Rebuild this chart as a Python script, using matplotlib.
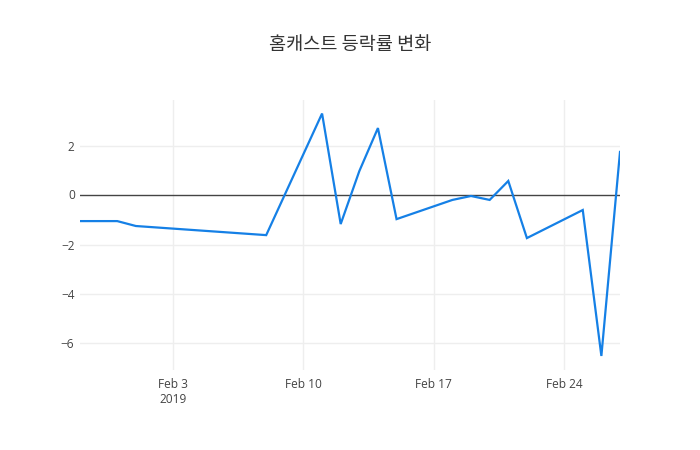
import matplotlib
matplotlib.use("Agg")
import matplotlib.pyplot as plt
import pandas as pd

plt.rcParams["font.family"] = ["Open Sans", "Noto Sans CJK KR", "DejaVu Sans"]

# ── Data ──────────────────────────────────────────────────────────────────────
dates = [
    "2019-01-29", "2019-01-30", "2019-01-31", "2019-02-01", "2019-02-08",
    "2019-02-11", "2019-02-12", "2019-02-13", "2019-02-14", "2019-02-15",
    "2019-02-18", "2019-02-19", "2019-02-20", "2019-02-21", "2019-02-22",
    "2019-02-25", "2019-02-26", "2019-02-27",
]
change_pct = [
    -1.04, -1.04, -1.04, -1.24, -1.61,
    3.33, -1.16, 0.99, 2.74, -0.96,
    -0.18, -0.02, -0.18, 0.59, -1.73,
    -0.59, -6.52, 1.77,
]
title = "홈캐스트 등락률 변화"
tick_dates = ["2019-02-03", "2019-02-10", "2019-02-17", "2019-02-24"]
tick_labels = ["Feb 3\n2019", "Feb 10", "Feb 17", "Feb 24"]

x = pd.to_datetime(dates)

# ── Plot ──────────────────────────────────────────────────────────────────────
fig = plt.figure(figsize=(7, 4.5), dpi=100)
ax = fig.add_axes([80 / 700, 80 / 450, 540 / 700, 270 / 450])

ax.plot(x, change_pct, color="#1580e6", linewidth=1.6, solid_joinstyle="miter", zorder=3)
ax.axhline(0, color="#444444", linewidth=1, zorder=2)

ax.set_xlim(x[0], x[-1])
ax.set_ylim(-7.09, 3.88)

ax.set_xticks(pd.to_datetime(tick_dates))
ax.set_xticklabels(tick_labels)
ax.set_yticks([-6, -4, -2, 2])
ax.set_yticklabels(["\u22126", "\u22124", "\u22122", "2"])

ax.grid(True, color="#eeeeee", linewidth=1, zorder=0)
ax.set_axisbelow(True)
for s in ax.spines.values():
    s.set_visible(False)
ax.tick_params(length=0, labelsize=8.6, labelcolor="#444444", pad=6)
ax.tick_params(axis="y", pad=4)

# zero label separately so it sits on the zero line
ax.text(-0.008, 0, "0", transform=ax.get_yaxis_transform(), ha="right", va="center",
        fontsize=8.6, color="#444444")

fig.text(0.5, 1 - 45 / 450, title, ha="center", va="center", fontsize=13.4,
         color="#333333", family=["Noto Sans CJK KR", "DejaVu Sans"])

fig.savefig("out.png", dpi=100)
